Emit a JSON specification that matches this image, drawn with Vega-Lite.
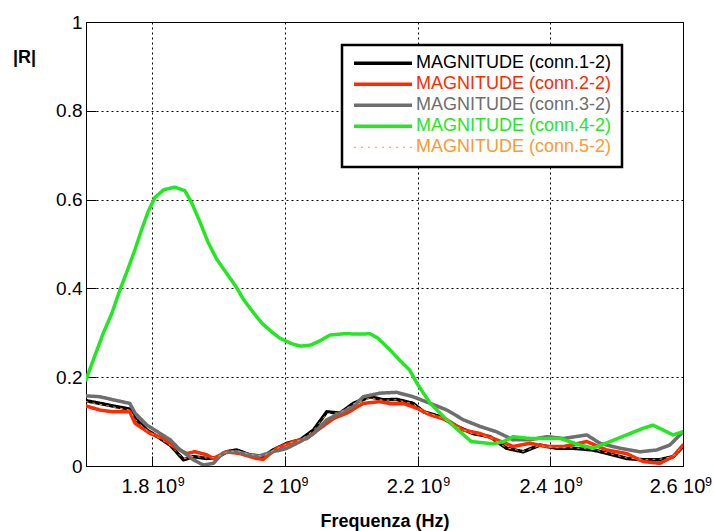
{
  "$schema": "https://vega.github.io/schema/vega-lite/v6.json",
  "width": 597,
  "height": 444,
  "autosize": {"type": "none"},
  "padding": {"left": 86, "top": 22, "right": 31, "bottom": 65},
  "background": "white",
  "config": {
    "font": "Liberation Sans",
    "view": {"stroke": "black", "strokeWidth": 1},
    "axis": {
      "domain": false,
      "grid": true,
      "gridDash": [2, 3],
      "gridColor": "black",
      "gridOpacity": 1,
      "gridWidth": 1,
      "ticks": true,
      "tickSize": -10,
      "tickColor": "black",
      "tickWidth": 1,
      "labelFontSize": 19,
      "labelColor": "black",
      "labelFont": "Liberation Sans",
      "titleFont": "Liberation Sans",
      "titleFontSize": 18,
      "titleFontWeight": "bold",
      "titleColor": "black"
    }
  },
  "data": {
    "values": [
      {"series": "MAGNITUDE (conn.1-2)", "f": 1.700, "r": 0.147},
      {"series": "MAGNITUDE (conn.1-2)", "f": 1.721, "r": 0.141},
      {"series": "MAGNITUDE (conn.1-2)", "f": 1.741, "r": 0.135},
      {"series": "MAGNITUDE (conn.1-2)", "f": 1.766, "r": 0.128},
      {"series": "MAGNITUDE (conn.1-2)", "f": 1.774, "r": 0.107},
      {"series": "MAGNITUDE (conn.1-2)", "f": 1.792, "r": 0.081},
      {"series": "MAGNITUDE (conn.1-2)", "f": 1.812, "r": 0.062},
      {"series": "MAGNITUDE (conn.1-2)", "f": 1.827, "r": 0.047},
      {"series": "MAGNITUDE (conn.1-2)", "f": 1.847, "r": 0.014},
      {"series": "MAGNITUDE (conn.1-2)", "f": 1.862, "r": 0.021},
      {"series": "MAGNITUDE (conn.1-2)", "f": 1.882, "r": 0.017},
      {"series": "MAGNITUDE (conn.1-2)", "f": 1.897, "r": 0.019},
      {"series": "MAGNITUDE (conn.1-2)", "f": 1.912, "r": 0.032},
      {"series": "MAGNITUDE (conn.1-2)", "f": 1.927, "r": 0.036},
      {"series": "MAGNITUDE (conn.1-2)", "f": 1.947, "r": 0.025},
      {"series": "MAGNITUDE (conn.1-2)", "f": 1.967, "r": 0.021},
      {"series": "MAGNITUDE (conn.1-2)", "f": 1.982, "r": 0.036},
      {"series": "MAGNITUDE (conn.1-2)", "f": 2.003, "r": 0.051},
      {"series": "MAGNITUDE (conn.1-2)", "f": 2.023, "r": 0.059},
      {"series": "MAGNITUDE (conn.1-2)", "f": 2.043, "r": 0.081},
      {"series": "MAGNITUDE (conn.1-2)", "f": 2.063, "r": 0.122},
      {"series": "MAGNITUDE (conn.1-2)", "f": 2.083, "r": 0.119},
      {"series": "MAGNITUDE (conn.1-2)", "f": 2.103, "r": 0.141},
      {"series": "MAGNITUDE (conn.1-2)", "f": 2.128, "r": 0.156},
      {"series": "MAGNITUDE (conn.1-2)", "f": 2.148, "r": 0.149},
      {"series": "MAGNITUDE (conn.1-2)", "f": 2.168, "r": 0.150},
      {"series": "MAGNITUDE (conn.1-2)", "f": 2.193, "r": 0.141},
      {"series": "MAGNITUDE (conn.1-2)", "f": 2.209, "r": 0.122},
      {"series": "MAGNITUDE (conn.1-2)", "f": 2.234, "r": 0.111},
      {"series": "MAGNITUDE (conn.1-2)", "f": 2.259, "r": 0.089},
      {"series": "MAGNITUDE (conn.1-2)", "f": 2.284, "r": 0.073},
      {"series": "MAGNITUDE (conn.1-2)", "f": 2.309, "r": 0.066},
      {"series": "MAGNITUDE (conn.1-2)", "f": 2.334, "r": 0.040},
      {"series": "MAGNITUDE (conn.1-2)", "f": 2.359, "r": 0.032},
      {"series": "MAGNITUDE (conn.1-2)", "f": 2.384, "r": 0.047},
      {"series": "MAGNITUDE (conn.1-2)", "f": 2.410, "r": 0.040},
      {"series": "MAGNITUDE (conn.1-2)", "f": 2.435, "r": 0.040},
      {"series": "MAGNITUDE (conn.1-2)", "f": 2.465, "r": 0.036},
      {"series": "MAGNITUDE (conn.1-2)", "f": 2.495, "r": 0.025},
      {"series": "MAGNITUDE (conn.1-2)", "f": 2.515, "r": 0.017},
      {"series": "MAGNITUDE (conn.1-2)", "f": 2.540, "r": 0.014},
      {"series": "MAGNITUDE (conn.1-2)", "f": 2.565, "r": 0.014},
      {"series": "MAGNITUDE (conn.1-2)", "f": 2.585, "r": 0.021},
      {"series": "MAGNITUDE (conn.1-2)", "f": 2.600, "r": 0.044},

      {"series": "MAGNITUDE (conn.2-2)", "f": 1.700, "r": 0.135},
      {"series": "MAGNITUDE (conn.2-2)", "f": 1.721, "r": 0.126},
      {"series": "MAGNITUDE (conn.2-2)", "f": 1.741, "r": 0.122},
      {"series": "MAGNITUDE (conn.2-2)", "f": 1.766, "r": 0.122},
      {"series": "MAGNITUDE (conn.2-2)", "f": 1.774, "r": 0.096},
      {"series": "MAGNITUDE (conn.2-2)", "f": 1.797, "r": 0.073},
      {"series": "MAGNITUDE (conn.2-2)", "f": 1.817, "r": 0.062},
      {"series": "MAGNITUDE (conn.2-2)", "f": 1.832, "r": 0.044},
      {"series": "MAGNITUDE (conn.2-2)", "f": 1.852, "r": 0.028},
      {"series": "MAGNITUDE (conn.2-2)", "f": 1.864, "r": 0.032},
      {"series": "MAGNITUDE (conn.2-2)", "f": 1.882, "r": 0.025},
      {"series": "MAGNITUDE (conn.2-2)", "f": 1.892, "r": 0.017},
      {"series": "MAGNITUDE (conn.2-2)", "f": 1.912, "r": 0.032},
      {"series": "MAGNITUDE (conn.2-2)", "f": 1.932, "r": 0.028},
      {"series": "MAGNITUDE (conn.2-2)", "f": 1.957, "r": 0.017},
      {"series": "MAGNITUDE (conn.2-2)", "f": 1.967, "r": 0.015},
      {"series": "MAGNITUDE (conn.2-2)", "f": 1.988, "r": 0.040},
      {"series": "MAGNITUDE (conn.2-2)", "f": 2.013, "r": 0.055},
      {"series": "MAGNITUDE (conn.2-2)", "f": 2.033, "r": 0.062},
      {"series": "MAGNITUDE (conn.2-2)", "f": 2.053, "r": 0.085},
      {"series": "MAGNITUDE (conn.2-2)", "f": 2.073, "r": 0.107},
      {"series": "MAGNITUDE (conn.2-2)", "f": 2.093, "r": 0.119},
      {"series": "MAGNITUDE (conn.2-2)", "f": 2.118, "r": 0.141},
      {"series": "MAGNITUDE (conn.2-2)", "f": 2.143, "r": 0.145},
      {"series": "MAGNITUDE (conn.2-2)", "f": 2.160, "r": 0.140},
      {"series": "MAGNITUDE (conn.2-2)", "f": 2.180, "r": 0.140},
      {"series": "MAGNITUDE (conn.2-2)", "f": 2.199, "r": 0.130},
      {"series": "MAGNITUDE (conn.2-2)", "f": 2.219, "r": 0.115},
      {"series": "MAGNITUDE (conn.2-2)", "f": 2.244, "r": 0.104},
      {"series": "MAGNITUDE (conn.2-2)", "f": 2.269, "r": 0.081},
      {"series": "MAGNITUDE (conn.2-2)", "f": 2.294, "r": 0.073},
      {"series": "MAGNITUDE (conn.2-2)", "f": 2.319, "r": 0.059},
      {"series": "MAGNITUDE (conn.2-2)", "f": 2.344, "r": 0.044},
      {"series": "MAGNITUDE (conn.2-2)", "f": 2.369, "r": 0.051},
      {"series": "MAGNITUDE (conn.2-2)", "f": 2.395, "r": 0.044},
      {"series": "MAGNITUDE (conn.2-2)", "f": 2.420, "r": 0.044},
      {"series": "MAGNITUDE (conn.2-2)", "f": 2.455, "r": 0.055},
      {"series": "MAGNITUDE (conn.2-2)", "f": 2.485, "r": 0.036},
      {"series": "MAGNITUDE (conn.2-2)", "f": 2.515, "r": 0.028},
      {"series": "MAGNITUDE (conn.2-2)", "f": 2.540, "r": 0.010},
      {"series": "MAGNITUDE (conn.2-2)", "f": 2.565, "r": 0.006},
      {"series": "MAGNITUDE (conn.2-2)", "f": 2.585, "r": 0.021},
      {"series": "MAGNITUDE (conn.2-2)", "f": 2.600, "r": 0.047},

      {"series": "MAGNITUDE (conn.3-2)", "f": 1.700, "r": 0.158},
      {"series": "MAGNITUDE (conn.3-2)", "f": 1.721, "r": 0.156},
      {"series": "MAGNITUDE (conn.3-2)", "f": 1.741, "r": 0.149},
      {"series": "MAGNITUDE (conn.3-2)", "f": 1.766, "r": 0.141},
      {"series": "MAGNITUDE (conn.3-2)", "f": 1.774, "r": 0.119},
      {"series": "MAGNITUDE (conn.3-2)", "f": 1.792, "r": 0.092},
      {"series": "MAGNITUDE (conn.3-2)", "f": 1.812, "r": 0.073},
      {"series": "MAGNITUDE (conn.3-2)", "f": 1.827, "r": 0.059},
      {"series": "MAGNITUDE (conn.3-2)", "f": 1.842, "r": 0.036},
      {"series": "MAGNITUDE (conn.3-2)", "f": 1.862, "r": 0.014},
      {"series": "MAGNITUDE (conn.3-2)", "f": 1.877, "r": 0.002},
      {"series": "MAGNITUDE (conn.3-2)", "f": 1.892, "r": 0.006},
      {"series": "MAGNITUDE (conn.3-2)", "f": 1.907, "r": 0.030},
      {"series": "MAGNITUDE (conn.3-2)", "f": 1.927, "r": 0.032},
      {"series": "MAGNITUDE (conn.3-2)", "f": 1.947, "r": 0.025},
      {"series": "MAGNITUDE (conn.3-2)", "f": 1.962, "r": 0.023},
      {"series": "MAGNITUDE (conn.3-2)", "f": 1.982, "r": 0.032},
      {"series": "MAGNITUDE (conn.3-2)", "f": 2.003, "r": 0.040},
      {"series": "MAGNITUDE (conn.3-2)", "f": 2.023, "r": 0.055},
      {"series": "MAGNITUDE (conn.3-2)", "f": 2.043, "r": 0.073},
      {"series": "MAGNITUDE (conn.3-2)", "f": 2.063, "r": 0.104},
      {"series": "MAGNITUDE (conn.3-2)", "f": 2.083, "r": 0.119},
      {"series": "MAGNITUDE (conn.3-2)", "f": 2.103, "r": 0.134},
      {"series": "MAGNITUDE (conn.3-2)", "f": 2.118, "r": 0.156},
      {"series": "MAGNITUDE (conn.3-2)", "f": 2.143, "r": 0.164},
      {"series": "MAGNITUDE (conn.3-2)", "f": 2.168, "r": 0.166},
      {"series": "MAGNITUDE (conn.3-2)", "f": 2.193, "r": 0.156},
      {"series": "MAGNITUDE (conn.3-2)", "f": 2.219, "r": 0.141},
      {"series": "MAGNITUDE (conn.3-2)", "f": 2.244, "r": 0.126},
      {"series": "MAGNITUDE (conn.3-2)", "f": 2.269, "r": 0.104},
      {"series": "MAGNITUDE (conn.3-2)", "f": 2.294, "r": 0.089},
      {"series": "MAGNITUDE (conn.3-2)", "f": 2.319, "r": 0.077},
      {"series": "MAGNITUDE (conn.3-2)", "f": 2.344, "r": 0.059},
      {"series": "MAGNITUDE (conn.3-2)", "f": 2.369, "r": 0.059},
      {"series": "MAGNITUDE (conn.3-2)", "f": 2.395, "r": 0.066},
      {"series": "MAGNITUDE (conn.3-2)", "f": 2.420, "r": 0.062},
      {"series": "MAGNITUDE (conn.3-2)", "f": 2.455, "r": 0.070},
      {"series": "MAGNITUDE (conn.3-2)", "f": 2.475, "r": 0.051},
      {"series": "MAGNITUDE (conn.3-2)", "f": 2.505, "r": 0.040},
      {"series": "MAGNITUDE (conn.3-2)", "f": 2.535, "r": 0.032},
      {"series": "MAGNITUDE (conn.3-2)", "f": 2.560, "r": 0.036},
      {"series": "MAGNITUDE (conn.3-2)", "f": 2.580, "r": 0.047},
      {"series": "MAGNITUDE (conn.3-2)", "f": 2.600, "r": 0.077},

      {"series": "MAGNITUDE (conn.4-2)", "f": 1.700, "r": 0.194},
      {"series": "MAGNITUDE (conn.4-2)", "f": 1.711, "r": 0.239},
      {"series": "MAGNITUDE (conn.4-2)", "f": 1.726, "r": 0.299},
      {"series": "MAGNITUDE (conn.4-2)", "f": 1.739, "r": 0.344},
      {"series": "MAGNITUDE (conn.4-2)", "f": 1.751, "r": 0.396},
      {"series": "MAGNITUDE (conn.4-2)", "f": 1.763, "r": 0.443},
      {"series": "MAGNITUDE (conn.4-2)", "f": 1.774, "r": 0.488},
      {"series": "MAGNITUDE (conn.4-2)", "f": 1.784, "r": 0.533},
      {"series": "MAGNITUDE (conn.4-2)", "f": 1.794, "r": 0.574},
      {"series": "MAGNITUDE (conn.4-2)", "f": 1.804, "r": 0.605},
      {"series": "MAGNITUDE (conn.4-2)", "f": 1.817, "r": 0.622},
      {"series": "MAGNITUDE (conn.4-2)", "f": 1.834, "r": 0.628},
      {"series": "MAGNITUDE (conn.4-2)", "f": 1.849, "r": 0.620},
      {"series": "MAGNITUDE (conn.4-2)", "f": 1.859, "r": 0.594},
      {"series": "MAGNITUDE (conn.4-2)", "f": 1.872, "r": 0.549},
      {"series": "MAGNITUDE (conn.4-2)", "f": 1.884, "r": 0.504},
      {"series": "MAGNITUDE (conn.4-2)", "f": 1.897, "r": 0.466},
      {"series": "MAGNITUDE (conn.4-2)", "f": 1.912, "r": 0.434},
      {"series": "MAGNITUDE (conn.4-2)", "f": 1.927, "r": 0.402},
      {"series": "MAGNITUDE (conn.4-2)", "f": 1.937, "r": 0.376},
      {"series": "MAGNITUDE (conn.4-2)", "f": 1.952, "r": 0.346},
      {"series": "MAGNITUDE (conn.4-2)", "f": 1.965, "r": 0.322},
      {"series": "MAGNITUDE (conn.4-2)", "f": 1.980, "r": 0.302},
      {"series": "MAGNITUDE (conn.4-2)", "f": 1.992, "r": 0.288},
      {"series": "MAGNITUDE (conn.4-2)", "f": 2.011, "r": 0.275},
      {"series": "MAGNITUDE (conn.4-2)", "f": 2.023, "r": 0.270},
      {"series": "MAGNITUDE (conn.4-2)", "f": 2.038, "r": 0.272},
      {"series": "MAGNITUDE (conn.4-2)", "f": 2.053, "r": 0.282},
      {"series": "MAGNITUDE (conn.4-2)", "f": 2.068, "r": 0.295},
      {"series": "MAGNITUDE (conn.4-2)", "f": 2.090, "r": 0.298},
      {"series": "MAGNITUDE (conn.4-2)", "f": 2.113, "r": 0.297},
      {"series": "MAGNITUDE (conn.4-2)", "f": 2.128, "r": 0.298},
      {"series": "MAGNITUDE (conn.4-2)", "f": 2.140, "r": 0.288},
      {"series": "MAGNITUDE (conn.4-2)", "f": 2.158, "r": 0.262},
      {"series": "MAGNITUDE (conn.4-2)", "f": 2.173, "r": 0.238},
      {"series": "MAGNITUDE (conn.4-2)", "f": 2.188, "r": 0.216},
      {"series": "MAGNITUDE (conn.4-2)", "f": 2.199, "r": 0.186},
      {"series": "MAGNITUDE (conn.4-2)", "f": 2.219, "r": 0.141},
      {"series": "MAGNITUDE (conn.4-2)", "f": 2.244, "r": 0.104},
      {"series": "MAGNITUDE (conn.4-2)", "f": 2.264, "r": 0.077},
      {"series": "MAGNITUDE (conn.4-2)", "f": 2.281, "r": 0.055},
      {"series": "MAGNITUDE (conn.4-2)", "f": 2.314, "r": 0.050},
      {"series": "MAGNITUDE (conn.4-2)", "f": 2.329, "r": 0.055},
      {"series": "MAGNITUDE (conn.4-2)", "f": 2.344, "r": 0.066},
      {"series": "MAGNITUDE (conn.4-2)", "f": 2.369, "r": 0.062},
      {"series": "MAGNITUDE (conn.4-2)", "f": 2.395, "r": 0.062},
      {"series": "MAGNITUDE (conn.4-2)", "f": 2.415, "r": 0.062},
      {"series": "MAGNITUDE (conn.4-2)", "f": 2.445, "r": 0.047},
      {"series": "MAGNITUDE (conn.4-2)", "f": 2.465, "r": 0.040},
      {"series": "MAGNITUDE (conn.4-2)", "f": 2.490, "r": 0.055},
      {"series": "MAGNITUDE (conn.4-2)", "f": 2.515, "r": 0.070},
      {"series": "MAGNITUDE (conn.4-2)", "f": 2.540, "r": 0.085},
      {"series": "MAGNITUDE (conn.4-2)", "f": 2.555, "r": 0.092},
      {"series": "MAGNITUDE (conn.4-2)", "f": 2.570, "r": 0.081},
      {"series": "MAGNITUDE (conn.4-2)", "f": 2.585, "r": 0.070},
      {"series": "MAGNITUDE (conn.4-2)", "f": 2.600, "r": 0.077},

      {"series": "MAGNITUDE (conn.5-2)", "f": 1.700, "r": 0.145},
      {"series": "MAGNITUDE (conn.5-2)", "f": 1.721, "r": 0.139},
      {"series": "MAGNITUDE (conn.5-2)", "f": 1.741, "r": 0.133},
      {"series": "MAGNITUDE (conn.5-2)", "f": 1.766, "r": 0.126},
      {"series": "MAGNITUDE (conn.5-2)", "f": 1.774, "r": 0.105},
      {"series": "MAGNITUDE (conn.5-2)", "f": 1.792, "r": 0.080},
      {"series": "MAGNITUDE (conn.5-2)", "f": 1.812, "r": 0.061},
      {"series": "MAGNITUDE (conn.5-2)", "f": 1.827, "r": 0.046},
      {"series": "MAGNITUDE (conn.5-2)", "f": 1.847, "r": 0.016},
      {"series": "MAGNITUDE (conn.5-2)", "f": 1.862, "r": 0.022},
      {"series": "MAGNITUDE (conn.5-2)", "f": 1.882, "r": 0.018},
      {"series": "MAGNITUDE (conn.5-2)", "f": 1.897, "r": 0.020},
      {"series": "MAGNITUDE (conn.5-2)", "f": 1.912, "r": 0.031},
      {"series": "MAGNITUDE (conn.5-2)", "f": 1.927, "r": 0.035},
      {"series": "MAGNITUDE (conn.5-2)", "f": 1.947, "r": 0.026},
      {"series": "MAGNITUDE (conn.5-2)", "f": 1.967, "r": 0.022},
      {"series": "MAGNITUDE (conn.5-2)", "f": 1.982, "r": 0.035},
      {"series": "MAGNITUDE (conn.5-2)", "f": 2.003, "r": 0.050},
      {"series": "MAGNITUDE (conn.5-2)", "f": 2.023, "r": 0.058},
      {"series": "MAGNITUDE (conn.5-2)", "f": 2.043, "r": 0.080},
      {"series": "MAGNITUDE (conn.5-2)", "f": 2.063, "r": 0.118},
      {"series": "MAGNITUDE (conn.5-2)", "f": 2.083, "r": 0.120},
      {"series": "MAGNITUDE (conn.5-2)", "f": 2.103, "r": 0.140},
      {"series": "MAGNITUDE (conn.5-2)", "f": 2.128, "r": 0.153},
      {"series": "MAGNITUDE (conn.5-2)", "f": 2.148, "r": 0.148},
      {"series": "MAGNITUDE (conn.5-2)", "f": 2.168, "r": 0.149},
      {"series": "MAGNITUDE (conn.5-2)", "f": 2.193, "r": 0.140},
      {"series": "MAGNITUDE (conn.5-2)", "f": 2.209, "r": 0.123},
      {"series": "MAGNITUDE (conn.5-2)", "f": 2.234, "r": 0.110},
      {"series": "MAGNITUDE (conn.5-2)", "f": 2.259, "r": 0.088},
      {"series": "MAGNITUDE (conn.5-2)", "f": 2.284, "r": 0.072},
      {"series": "MAGNITUDE (conn.5-2)", "f": 2.309, "r": 0.065},
      {"series": "MAGNITUDE (conn.5-2)", "f": 2.334, "r": 0.041},
      {"series": "MAGNITUDE (conn.5-2)", "f": 2.359, "r": 0.033},
      {"series": "MAGNITUDE (conn.5-2)", "f": 2.384, "r": 0.046},
      {"series": "MAGNITUDE (conn.5-2)", "f": 2.410, "r": 0.041},
      {"series": "MAGNITUDE (conn.5-2)", "f": 2.435, "r": 0.041},
      {"series": "MAGNITUDE (conn.5-2)", "f": 2.465, "r": 0.037},
      {"series": "MAGNITUDE (conn.5-2)", "f": 2.495, "r": 0.026},
      {"series": "MAGNITUDE (conn.5-2)", "f": 2.515, "r": 0.018},
      {"series": "MAGNITUDE (conn.5-2)", "f": 2.540, "r": 0.015},
      {"series": "MAGNITUDE (conn.5-2)", "f": 2.565, "r": 0.015},
      {"series": "MAGNITUDE (conn.5-2)", "f": 2.585, "r": 0.022},
      {"series": "MAGNITUDE (conn.5-2)", "f": 2.600, "r": 0.045}
    ]
  },
  "layer": [
    {
      "mark": {"type": "line", "clip": true, "strokeCap": "round", "strokeJoin": "round"},
      "encoding": {
        "x": {
          "field": "f",
          "type": "quantitative",
          "scale": {"domain": [1.7, 2.6], "nice": false, "zero": false},
          "axis": {
            "orient": "bottom",
            "values": [1.8, 2.0, 2.2, 2.4, 2.6],
            "labelExpr": "format(datum.value, '~g') + ' 10'",
            "labelFontSize": 20,
            "labelPadding": 20,
            "labelOffset": {"condition": {"test": "datum.value == 2.6", "value": -6}, "value": -3.5},
            "labelFlush": false,
            "labelOverlap": false,
            "title": "Frequenza (Hz)",
            "titlePadding": 16
          }
        },
        "y": {
          "field": "r",
          "type": "quantitative",
          "scale": {"domain": [0, 1], "nice": false},
          "axis": {
            "values": [0, 0.2, 0.4, 0.6, 0.8, 1],
            "format": "~g",
            "labelPadding": 14,
            "labelFlush": false,
            "title": "|R|",
            "titleAngle": 0,
            "titleAlign": "center",
            "titleBaseline": "middle",
            "titleX": -62,
            "titleY": 35
          }
        },
        "color": {
          "field": "series",
          "type": "nominal",
          "scale": {
            "domain": ["MAGNITUDE (conn.1-2)", "MAGNITUDE (conn.2-2)", "MAGNITUDE (conn.3-2)", "MAGNITUDE (conn.4-2)", "MAGNITUDE (conn.5-2)"],
            "range": ["#000000", "#ff2a00", "#6e6e6e", "#22e822", "#ff9933"]
          },
          "legend": {
            "title": null,
            "orient": "none",
            "legendX": 256,
            "legendY": 23,
            "direction": "vertical",
            "symbolType": "M-5,0H5",
            "symbolSize": 134.56,
            "symbolOffset": 22,
            "labelFontSize": 18,
            "labelFont": "Liberation Sans",
            "labelLimit": 400,
            "labelOffset": 24,
            "clipHeight": 16.5,
            "padding": 10,
            "strokeColor": "black",
            "fillColor": "white",
            "cornerRadius": 0,
            "encode": {
              "labels": {"update": {"fill": {"scale": "color", "field": "value"}}},
              "legend": {"update": {"strokeWidth": {"value": 2.5}}}
            }
          }
        },
        "strokeDash": {
          "field": "series",
          "type": "nominal",
          "scale": {
            "domain": ["MAGNITUDE (conn.1-2)", "MAGNITUDE (conn.2-2)", "MAGNITUDE (conn.3-2)", "MAGNITUDE (conn.4-2)", "MAGNITUDE (conn.5-2)"],
            "range": [[1, 0], [1, 0], [1, 0], [1, 0], [2, 5]]
          }
        },
        "strokeWidth": {
          "field": "series",
          "type": "nominal",
          "scale": {
            "type": "ordinal",
            "domain": ["MAGNITUDE (conn.1-2)", "MAGNITUDE (conn.2-2)", "MAGNITUDE (conn.3-2)", "MAGNITUDE (conn.4-2)", "MAGNITUDE (conn.5-2)"],
            "range": [3.5, 3.5, 3.5, 3.5, 1]
          }
        }
      }
    },
    {
      "mark": {"type": "point", "opacity": 0},
      "encoding": {
        "x": {
          "field": "f",
          "type": "quantitative",
          "axis": {
            "orient": "bottom",
            "values": [1.8, 2.0, 2.2, 2.4, 2.6],
            "labelExpr": "'9'",
            "grid": false,
            "ticks": false,
            "labelFontSize": 12.5,
            "labelPadding": 9,
            "labelAlign": "left",
            "labelOffset": {"condition": [{"test": "datum.value == 2", "value": 16}, {"test": "datum.value == 2.6", "value": 21.5}], "value": 25},
            "labelFlush": false,
            "labelOverlap": false,
            "labelBound": false,
            "title": null
          }
        }
      }
    }
  ],
  "resolve": {"axis": {"x": "independent"}}
}
